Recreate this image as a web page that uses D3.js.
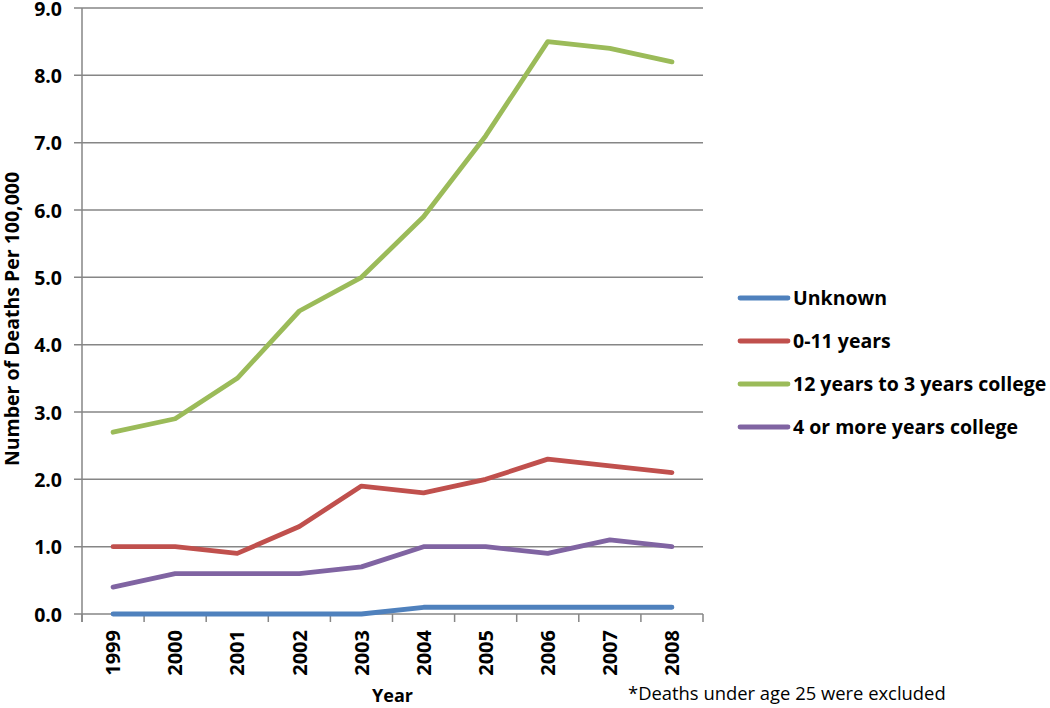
<!DOCTYPE html>
<html><head><meta charset="utf-8">
<script src="https://cdn.jsdelivr.net/npm/d3@7"></script>
<style>body{margin:0;background:#fff;} text{font-family:"Open Sans",sans-serif;}</style>
</head><body>
<svg id="c" width="1050" height="708"></svg>
<script>
const years = ["1999","2000","2001","2002","2003","2004","2005","2006","2007","2008"];
const seriesNames = ["Unknown","0-11 years","12 years to 3 years college","4 or more years college"];
const unknownVals = [0,0,0,0,0,0.1,0.1,0.1,0.1,0.1];
const lessHSVals = [1.0,1.0,0.9,1.3,1.9,1.8,2.0,2.3,2.2,2.1];
const hsCollegeVals = [2.7,2.9,3.5,4.5,5.0,5.9,7.1,8.5,8.4,8.2];
const collegeVals = [0.4,0.6,0.6,0.6,0.7,1.0,1.0,0.9,1.1,1.0];
const yTicks = [0,1,2,3,4,5,6,7,8,9];
const colors = ["#4F81BD","#C0504D","#9BBB59","#8064A2"];
const allSeries = [unknownVals, lessHSVals, hsCollegeVals, collegeVals];

const svg = d3.select("#c");
const pL = 82, pR = 703, pT = 8, pB = 614;
const x = d3.scaleBand().domain(years).range([pL, pR]);
const y = d3.scaleLinear().domain([0, 9]).range([pB, pT]);
const grey = "#868686";

// gridlines
svg.append("g").selectAll("line").data(yTicks).join("line")
  .attr("x1", pL - 8).attr("x2", pR)
  .attr("y1", d => y(d)).attr("y2", d => y(d))
  .attr("stroke", grey).attr("stroke-width", 1.5);

// y axis line
svg.append("line").attr("x1", pL).attr("x2", pL).attr("y1", pT).attr("y2", pB + 8)
  .attr("stroke", grey).attr("stroke-width", 1.5);

// x tick marks between categories
const xTickPos = years.map(d => x(d)).concat([pR]);
svg.append("g").selectAll("line").data(xTickPos).join("line")
  .attr("x1", d => d).attr("x2", d => d).attr("y1", pB).attr("y2", pB + 8)
  .attr("stroke", grey).attr("stroke-width", 1.5);

// y labels
svg.append("g").selectAll("text").data(yTicks).join("text")
  .attr("x", 62).attr("y", d => y(d)).attr("dy", "0.4em")
  .attr("text-anchor", "end").attr("font-weight", "bold").attr("font-size", 19.5)
  .text(d => d3.format(".1f")(d));

// x labels
svg.append("g").selectAll("text").data(years).join("text")
  .attr("transform", d => `translate(${x(d) + x.bandwidth() / 2},630) rotate(-90)`)
  .attr("dy", "0.36em").attr("text-anchor", "end")
  .attr("font-weight", "bold").attr("font-size", 20)
  .text(d => d);

// lines
const line = d3.line().x((d, i) => x(years[i]) + x.bandwidth() / 2).y(d => y(d));
svg.append("g").selectAll("path").data(allSeries).join("path")
  .attr("d", d => line(d)).attr("fill", "none")
  .attr("stroke", (d, i) => colors[i]).attr("stroke-width", 4.8)
  .attr("stroke-linejoin", "round").attr("stroke-linecap", "round");

// legend
const lg = svg.append("g").selectAll("g").data(seriesNames).join("g")
  .attr("transform", (d, i) => `translate(740,${298 + i * 43})`);
lg.append("line").attr("x1", 0).attr("x2", 48).attr("stroke", (d, i) => colors[i])
  .attr("stroke-width", 4.8).attr("stroke-linecap", "round");
lg.append("text").attr("x", 53).attr("dy", "0.36em").attr("font-weight", "bold")
  .attr("font-size", 19.5).text(d => d);

// axis titles
svg.append("text").attr("transform", `translate(19,319) rotate(-90)`)
  .attr("text-anchor", "middle").attr("font-weight", "bold").attr("font-size", 19.5)
  .text("Number of Deaths Per 100,000");
svg.append("text").attr("x", (pL + pR) / 2).attr("y", 702).attr("text-anchor", "middle")
  .attr("font-weight", "bold").attr("font-size", 18).text("Year");
svg.append("text").attr("x", 628).attr("y", 700).attr("font-size", 18.4)
  .text("*Deaths under age 25 were excluded");
</script>
</body></html>
